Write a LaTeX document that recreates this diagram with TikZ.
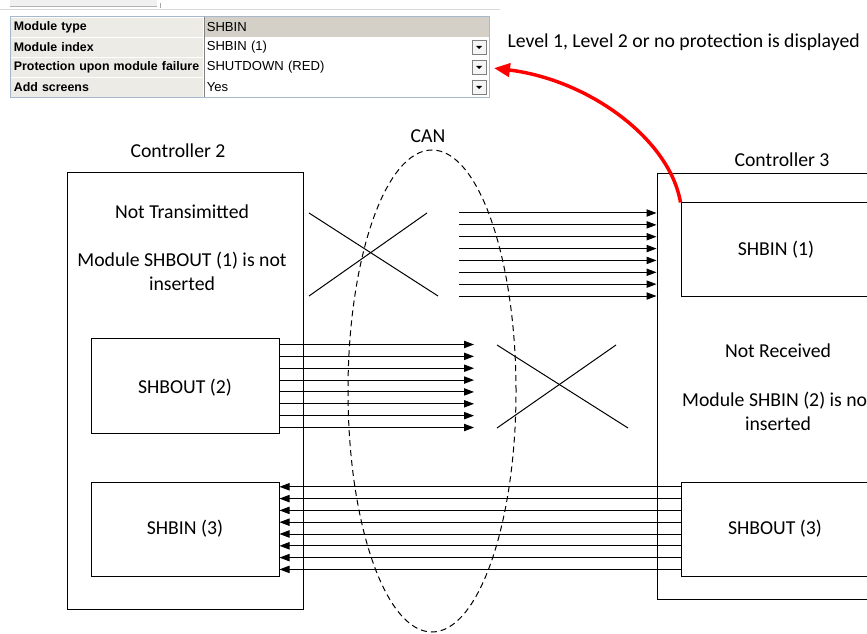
\documentclass[tikz,border=0pt]{standalone}
\usepackage{fontspec}
\setmainfont{Carlito}
\newfontfamily\tabfont{Liberation Sans}
\usetikzlibrary{arrows.meta,calc,fit,shapes.geometric}

\definecolor{tabgray}{HTML}{D4D0C8}
\definecolor{cellgray}{HTML}{ECEBE6}
\definecolor{gridgray}{HTML}{C8C8C8}
\definecolor{frameblue}{HTML}{A8B8CC}

\begin{document}
\begin{tikzpicture}[
    x=0.75pt, y=-0.75pt,
    font=\fontsize{14.8}{18}\selectfont,
    line width=0.75pt,
    box/.style={draw, inner sep=0pt},
    title/.style={align=center},
    remark/.style={align=center},
    sig/.style={-{Triangle[length=7.5pt,width=5.5pt]}},
    link/.style={red, line width=2.6pt, -{Triangle[length=12pt,width=10pt]}},
    bus/.style={draw, ellipse, dash pattern=on 4.5pt off 3pt, inner sep=0pt,
        minimum width=126pt, minimum height=361.5pt},
    keycell/.style={anchor=north west, fill=cellgray, draw=white,
        minimum height=15pt, text width=140pt, inner xsep=2.5pt, inner ysep=0pt,
        align=left, font=\tabfont\bfseries\fontsize{9.3}{10}\selectfont},
    valcell/.style={anchor=north west, minimum height=15pt, text width=208.75pt,
        inner xsep=2.5pt, inner ysep=0pt, align=left,
        font=\tabfont\fontsize{9.8}{11}\selectfont},
    button/.style={draw=gray, fill=gray!8, minimum size=10.5pt, inner sep=0pt}
]

\useasboundingbox (0,0) rectangle (867,634);
\clip (0,0) rectangle (867,634);

% Property table
\fill[gray!12] (10,0) rectangle (157,7);
\draw[gray!60] (10,7) -- (157,7);
\draw[gray!70] (160,3) -- (160,8);
\draw[gray!30] (0,9.5) -- (500,9.5);

\foreach \y/\k/\v/\c [count=\r] in {
    17/Module type/SHBIN/tabgray,
    37/Module index/SHBIN (1)/white,
    57/Protection upon module failure/SHUTDOWN (RED)/white,
    77/Add screens/Yes/white}
{
    \node[keycell] (key\r) at (10,\y) {\k};
    \node[valcell, fill=\c] (val\r) at (203,\y) {\v};
    \draw[gridgray] (key\r.south west) -- (val\r.south east);
}

\foreach \r in {2,3,4}
{
    \node[button] (btn\r) at ($(val\r.east)+(-10,0)$) {};
    \fill ($(btn\r)+(-3,-1.5)$) -- ++(6,0) -- ++(-3,3) -- cycle;
}

\draw[gray] (key1.north east) -- (key4.south east);
\node[draw=frameblue, inner sep=0pt, fit=(key1) (val4)] (table) {};

\node[anchor=base west, inner sep=0pt] (note) at (507,48)
    {Level 1, Level 2 or no protection is displayed};

% Controller 2
\node[title] (ctrl2lbl) at (178,151) {Controller 2};
\node[box, fit={(67,173) (303,609)}] (ctrl2) {};

\node[remark] (notx) at (182,212) {Not Transimitted};
\node[remark] (notx1) at (182,271) {Module SHBOUT (1) is not\\inserted};

\node[box, fit={(91,339) (279,433)}] (shbout2) {};
\node (shbout2lbl) at ($(shbout2)+(0,2)$) {SHBOUT (2)};
\node[box, fit={(91,482) (279,576)}] (shbin3) {};
\node (shbin3lbl) at (shbin3) {SHBIN (3)};

% CAN bus
\node[bus] (can) at (432,391) {};
\node[title] (canlbl) at (428,136) {CAN};

% Controller 3
\node[title] (ctrl3lbl) at (782,160) {Controller 3};
\node[box, fit={(657,174) (899,599)}] (ctrl3) {};

\node[box, fit={(681,203) (871,297)}] (shbin1) {};
\node (shbin1lbl) at (shbin1) {SHBIN (1)};
\node[box, fit={(681,482) (869,576)}] (shbout3) {};
\node (shbout3lbl) at (shbout3) {SHBOUT (3)};

\node[remark] (norx) at (778,351) {Not Received};
\node[remark] (norx2) at (778,411) {Module SHBIN (2) is not\\inserted};

% Signals
\coordinate (txfree) at (459,213);
\coordinate (midfree) at (474,345);

\foreach \i in {0,...,7}
{
    \path ($(txfree)+(0,\i*11.86)$) coordinate (s);
    \draw[sig] (s) -- (s -| ctrl3.west);

    \path ($(shbout2.north east)+(0,6+\i*11.86)$) coordinate (s);
    \draw[sig] (s) -- (s -| midfree);

    \path ($(shbout3.north west)+(0,5.3+\i*11.8)$) coordinate (s);
    \draw[sig] (s) -- (s -| shbin3.east);
}

% Lost signals
\draw (309,213) -- (438,296);
\draw (309,296) -- (427,213);
\draw (497,345) -- (628,428);
\draw (497,428) -- (616,345);

% Setting
\draw[link, shorten >=3.75pt] (shbin1.north west)
    .. controls (670,140) and (590,80) .. (val3.east);

\end{tikzpicture}
\end{document}
